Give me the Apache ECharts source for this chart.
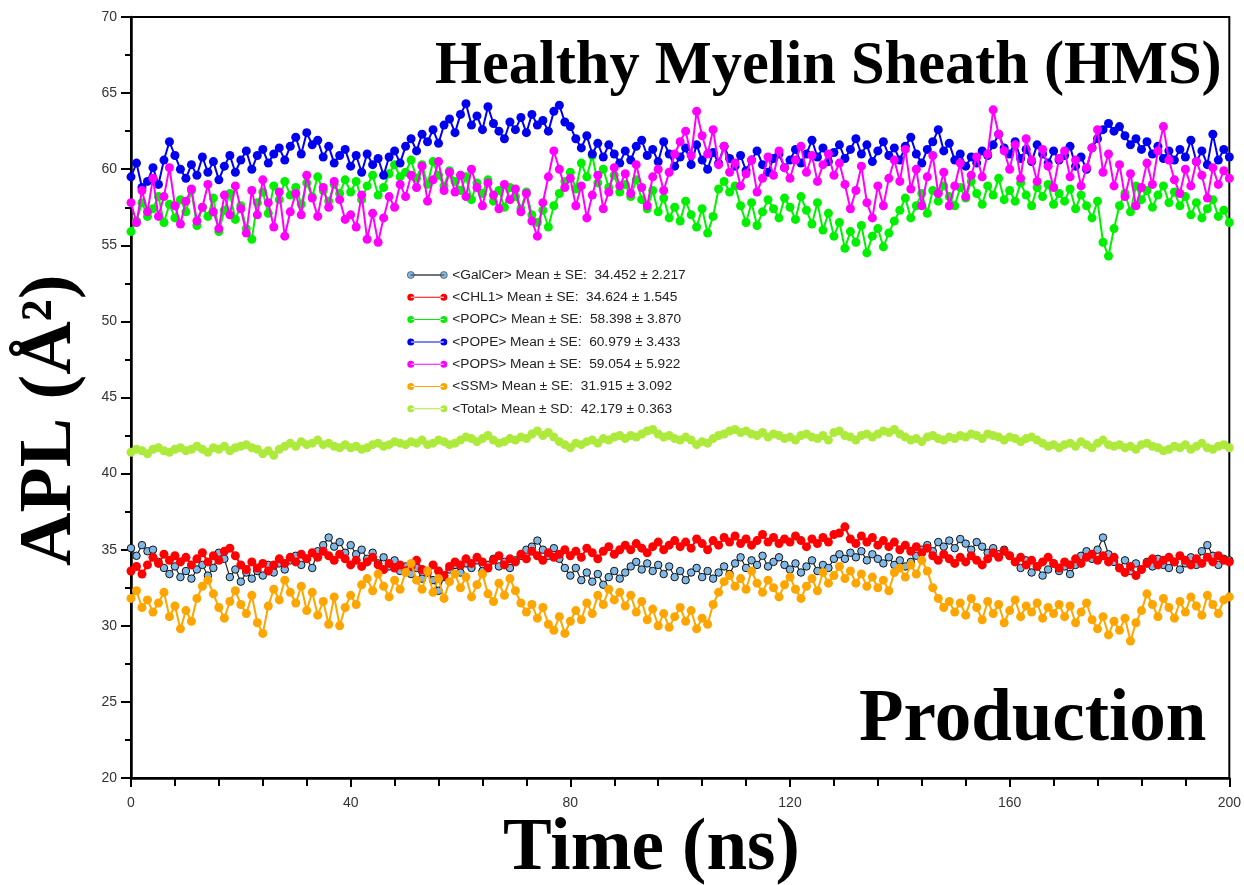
<!DOCTYPE html>
<html>
<head>
<meta charset="utf-8">
<script src="https://cdn.jsdelivr.net/npm/echarts@6/dist/echarts.min.js"></script>
<style>
html,body{margin:0;padding:0;background:#fff;}
#charts{width:1244px;height:885px;}
</style>
</head>
<body>
<div id="charts"></div>
<script>
// APL vs time, one value per ns
var timeStep = 1;
var lipidNames = ['<GalCer>','<CHL1>','<POPC>','<POPE>','<POPS>','<SSM>','<Total>'];
var statKind = ['SE','SE','SE','SE','SE','SE','SD'];
var meanVals = [34.452,34.624,58.398,60.979,59.054,31.915,42.179];
var errVals = [2.217,1.545,3.870,3.433,5.922,3.092,0.363];
var yTicks = [20,25,30,35,40,45,50,55,60,65,70];
var xTicks = [0,40,80,120,160,200];

var galcer = [35.1,34.6,35.3,34.9,35.0,34.2,33.8,33.4,33.9,33.2,
	33.6,33.1,33.7,34.0,33.3,33.8,34.8,34.4,33.2,33.7,
	32.9,33.5,33.1,33.6,33.3,34.0,33.5,34.1,33.7,34.3,
	34.6,34.0,34.4,33.8,34.9,35.3,35.8,35.2,35.5,34.8,
	35.3,34.7,35.0,34.4,34.8,34.1,34.5,33.9,34.3,33.6,
	33.9,33.4,33.8,33.1,33.6,33.0,32.3,33.2,33.7,34.0,
	33.5,34.1,33.8,34.3,33.6,34.0,34.4,33.9,34.2,33.8,
	34.3,34.6,35.0,35.2,35.6,35.0,34.6,35.1,34.4,33.8,
	33.3,33.8,33.0,33.5,32.9,33.4,32.7,33.2,33.6,33.1,
	33.5,33.9,34.2,33.7,34.1,33.6,34.0,33.4,33.9,33.2,
	33.6,33.0,33.5,33.8,33.2,33.6,33.1,33.5,33.9,33.4,
	34.1,34.5,33.8,34.3,34.0,34.6,33.9,34.2,34.5,34.0,
	33.7,34.1,33.5,33.9,34.3,33.6,34.0,33.8,34.4,34.7,
	34.4,34.8,34.5,34.9,34.3,34.7,34.4,34.1,34.5,34.0,
	34.3,33.9,34.2,34.6,35.0,35.3,34.9,35.5,35.2,35.6,
	35.1,35.7,35.4,35.0,35.5,35.2,34.8,35.1,34.7,35.0,
	34.6,34.2,33.8,34.3,33.5,33.9,33.3,33.7,34.1,33.6,
	33.9,33.4,34.0,34.6,34.9,34.4,35.0,35.8,34.7,34.2,
	33.8,34.3,33.6,34.1,33.7,34.2,33.9,34.4,34.0,33.8,
	34.2,33.7,34.1,34.5,34.0,34.9,35.3,34.6,34.0,34.4,
	34.3];
var chl1 = [33.6,33.9,33.4,34.0,34.5,34.1,34.7,34.3,34.6,34.2,
	34.5,34.0,34.4,34.8,34.2,34.6,34.3,34.9,35.1,34.6,
	34.0,33.7,34.2,33.8,34.1,33.6,34.0,34.4,34.1,34.5,
	34.2,34.7,34.4,34.8,34.5,34.9,34.6,34.3,34.7,34.4,
	34.0,34.3,33.9,34.2,34.5,34.0,33.7,34.1,33.8,34.0,
	33.6,33.9,34.3,33.7,33.5,34.0,33.6,33.3,33.9,34.2,
	34.0,34.4,34.1,34.5,34.2,33.8,34.3,34.6,34.0,34.4,
	34.2,34.7,34.4,34.9,34.6,34.3,34.8,34.5,34.7,35.0,
	34.6,34.9,34.5,35.1,34.8,34.4,34.9,35.2,34.7,35.0,
	35.3,35.0,35.4,35.1,34.8,35.2,35.5,35.0,35.3,35.6,
	35.2,35.5,35.1,35.7,35.4,35.0,35.6,35.3,35.8,35.5,
	35.9,35.4,35.7,35.3,35.6,36.0,35.5,35.8,35.4,35.7,
	35.5,35.9,35.6,35.2,35.7,35.4,35.8,35.5,36.0,36.1,
	36.5,35.7,35.4,35.9,35.5,35.8,35.3,35.6,35.2,35.5,
	35.0,35.3,34.9,35.2,34.8,35.1,34.6,34.3,34.7,34.4,
	34.1,34.5,34.2,34.6,34.3,34.0,34.4,34.8,34.5,34.9,
	34.6,34.2,34.5,34.0,34.3,33.9,34.2,34.5,34.1,33.8,
	34.2,34.0,34.4,34.1,34.5,34.7,34.3,34.6,34.2,34.5,
	33.8,33.5,33.9,33.3,33.7,34.1,34.4,34.0,34.3,34.5,
	34.2,34.6,34.3,34.0,34.4,34.1,34.5,34.2,34.6,34.3,
	34.2];
var popc = [55.9,56.6,57.8,56.9,57.4,58.2,56.5,57.7,56.8,58.0,
	57.2,58.6,56.3,57.5,56.9,58.1,55.9,57.3,58.4,56.7,
	57.6,56.1,55.4,57.8,58.5,57.1,58.9,58.0,59.2,58.3,
	58.8,57.7,59.1,58.2,59.5,58.6,57.9,59.0,58.4,59.3,
	58.5,59.2,58.0,58.9,59.6,58.3,58.8,59.7,60.3,59.5,
	59.8,60.6,59.4,60.3,59.0,60.5,59.6,58.9,59.9,59.2,
	58.6,59.5,58.0,59.1,58.4,59.3,57.9,58.6,57.5,58.8,
	58.2,57.4,58.5,57.0,56.5,57.3,56.2,57.6,58.4,59.2,
	59.8,58.7,60.4,59.5,60.9,59.1,60.0,58.8,59.6,58.5,
	59.0,58.2,59.3,58.0,57.4,58.6,57.2,58.1,56.8,57.5,
	56.6,57.9,57.0,56.2,57.4,55.8,56.9,58.7,59.2,58.5,
	58.9,57.6,56.5,57.8,56.3,57.2,58.0,57.4,56.8,58.1,
	57.5,56.7,58.2,57.3,56.4,57.8,56.0,57.1,55.6,56.5,
	54.8,55.9,55.2,56.3,54.5,55.6,56.1,54.9,55.8,56.6,
	57.3,58.1,56.8,57.6,58.4,57.1,58.6,57.9,58.9,58.2,
	57.6,58.8,58.1,59.2,58.4,57.7,58.9,58.3,59.4,58.0,
	58.6,57.9,59.1,58.3,57.6,58.8,58.2,59.0,57.7,58.4,
	57.9,58.7,57.4,58.3,57.6,56.8,57.9,55.2,54.3,56.1,
	57.6,58.4,57.2,58.9,58.0,58.6,57.5,58.3,58.9,57.8,
	58.5,57.6,58.2,57.0,57.8,56.8,57.4,58.0,56.9,57.3,
	56.5];
var pope = [59.5,60.4,58.8,59.2,60.1,59.0,60.6,61.8,60.9,60.0,
	59.4,60.3,59.6,60.8,59.8,60.5,59.3,60.2,60.9,59.8,
	60.6,61.2,60.0,60.9,61.3,60.4,61.0,61.4,60.6,61.5,
	62.1,61.0,62.4,61.6,61.9,60.8,61.5,60.4,60.9,61.3,
	60.2,60.9,59.8,61.0,60.3,60.7,59.6,60.8,61.2,60.4,
	61.5,62.0,61.2,62.3,61.8,62.6,61.7,62.9,63.3,62.4,
	63.6,64.3,62.9,63.5,62.6,64.1,63.0,62.5,62.0,63.1,
	62.6,63.4,62.4,63.6,62.9,63.2,62.5,63.8,64.2,63.1,
	62.8,62.0,61.4,62.2,61.0,61.7,60.8,61.6,61.0,60.4,
	61.2,60.6,61.5,61.9,60.9,61.3,60.5,61.8,61.0,60.2,
	60.8,61.4,60.3,61.6,60.6,60.0,61.1,60.4,61.5,60.7,
	60.2,60.9,59.9,60.6,61.2,60.3,59.8,60.7,61.0,60.1,
	60.6,61.3,60.4,61.0,61.9,60.8,61.4,60.5,61.1,61.6,
	60.7,61.3,62.0,61.0,61.6,60.5,61.2,61.8,60.9,61.4,
	60.6,61.5,62.1,61.0,60.4,61.3,61.8,62.6,61.2,61.7,
	60.6,61.0,60.2,60.8,60.4,61.2,60.9,61.6,62.3,61.4,
	61.0,61.8,60.7,61.3,60.5,61.6,61.0,60.4,61.2,60.6,
	60.9,61.5,60.2,60.8,60.0,61.4,62.0,62.6,63.0,62.5,
	62.8,62.2,61.6,62.0,61.3,61.8,61.0,61.5,60.7,61.2,
	60.6,61.3,60.8,61.9,60.5,61.2,60.3,62.3,60.6,61.3,
	60.8];
var pops = [57.8,56.5,58.6,57.2,59.4,56.9,58.2,60.1,57.6,56.4,
	57.9,58.7,56.6,57.5,59.0,57.2,56.1,58.3,57.0,58.9,
	57.4,55.8,58.6,57.0,59.3,57.8,56.2,58.5,55.6,57.2,
	58.4,57.0,59.6,58.1,56.9,58.8,57.5,59.2,58.0,56.7,
	57.0,56.2,58.3,55.4,57.1,55.2,56.8,58.2,57.5,59.0,
	58.2,59.6,58.8,60.2,57.9,59.3,60.5,58.6,59.8,58.5,
	59.6,58.2,60.0,58.8,57.6,59.1,58.3,57.4,59.0,58.0,
	58.7,57.2,58.4,56.6,55.6,57.8,59.5,61.2,60.0,58.8,
	59.4,57.6,58.9,56.8,58.3,59.6,57.4,58.5,60.1,58.9,
	59.7,58.4,60.3,58.8,57.6,59.5,60.0,58.6,59.8,61.0,
	61.8,62.5,60.9,63.8,62.2,61.0,62.6,60.3,61.5,59.8,
	60.4,58.9,59.7,60.6,58.5,59.4,60.8,59.6,61.2,60.1,
	59.4,60.6,61.5,59.8,60.9,59.2,60.3,61.0,59.6,60.4,
	59.0,57.4,58.6,60.2,57.8,56.8,58.9,57.6,59.4,60.6,
	59.2,61.3,58.7,60.0,57.6,59.5,60.9,58.4,59.8,57.6,
	58.9,60.4,58.2,59.6,60.8,59.5,61.0,63.9,62.3,61.2,
	60.0,61.6,59.4,62.0,60.6,59.2,61.3,60.2,58.8,60.7,
	61.2,59.5,60.6,58.9,60.1,61.4,62.6,59.8,61.0,58.9,
	60.3,58.2,59.7,57.6,58.8,60.4,59.0,61.2,62.8,60.6,
	59.3,58.4,60.0,58.9,60.5,59.6,58.1,60.1,59.0,59.9,
	59.4];
var ssm = [31.8,32.3,31.2,31.7,30.9,31.5,32.2,30.6,31.3,29.8,
	31.0,30.3,31.8,32.6,33.0,32.1,31.2,30.5,31.6,32.3,
	31.4,30.8,32.0,30.2,29.5,31.3,32.4,31.7,33.0,32.2,
	31.5,32.6,31.0,32.2,30.7,31.6,30.1,31.9,30.0,31.2,
	32.0,31.4,32.7,33.1,32.3,33.4,32.6,31.9,33.0,32.4,
	33.5,34.1,33.0,32.4,33.6,32.2,33.1,31.8,32.9,33.4,
	32.5,33.2,31.9,32.7,33.4,32.1,31.6,32.8,32.0,33.1,
	32.3,31.5,30.9,31.4,30.5,31.2,30.1,29.7,30.6,29.5,
	30.3,31.0,30.4,31.5,30.8,32.0,31.4,32.4,31.7,32.2,
	31.3,32.0,30.9,31.6,30.4,31.1,30.0,30.8,29.9,30.6,
	31.2,30.3,31.0,29.8,30.5,30.1,31.4,32.2,32.9,33.3,
	32.6,33.1,32.4,33.6,32.8,32.2,33.0,32.5,31.9,32.7,
	33.2,32.4,31.8,32.6,33.1,32.3,33.5,32.8,33.3,33.9,
	33.1,33.6,32.8,33.4,32.6,33.2,32.5,33.0,32.3,33.5,
	33.8,33.2,34.0,33.4,34.3,33.6,32.5,31.8,31.2,31.6,
	30.9,31.5,30.7,31.8,31.2,30.4,31.6,30.8,31.4,30.2,
	31.0,31.7,30.6,31.3,30.9,31.5,30.5,31.2,30.8,31.4,
	30.6,31.3,30.2,30.9,31.5,30.4,29.8,30.6,29.4,30.3,
	29.7,30.5,29.0,30.2,31.0,32.1,31.4,30.6,31.8,31.2,
	30.5,31.6,30.9,31.9,31.3,30.7,32.0,31.4,30.8,31.7,
	31.9];
var total = [41.4,41.6,41.5,41.3,41.6,41.7,41.5,41.4,41.6,41.7,
	41.5,41.6,41.8,41.6,41.4,41.7,41.6,41.8,41.5,41.7,
	41.8,41.9,41.7,41.6,41.3,41.5,41.2,41.6,41.8,42.0,
	41.8,42.1,41.9,42.0,42.2,41.9,42.0,41.8,41.7,41.9,
	41.7,41.8,41.6,41.7,41.9,42.0,41.8,41.9,42.1,42.0,
	41.9,42.1,42.0,42.2,41.9,42.0,42.2,42.1,41.9,42.0,
	42.2,42.4,42.3,42.1,42.3,42.5,42.2,42.0,42.1,42.3,
	42.2,42.4,42.3,42.6,42.8,42.5,42.7,42.4,42.1,41.9,
	41.7,42.0,41.9,42.1,42.2,42.0,42.3,42.2,42.4,42.5,
	42.3,42.5,42.4,42.6,42.8,42.9,42.6,42.4,42.5,42.3,
	42.2,42.4,42.2,41.9,42.1,42.0,42.3,42.5,42.6,42.8,
	42.9,42.7,42.8,42.6,42.5,42.7,42.4,42.6,42.5,42.3,
	42.4,42.2,42.5,42.6,42.4,42.3,42.5,42.2,42.7,42.8,
	42.5,42.4,42.2,42.5,42.6,42.4,42.6,42.8,42.7,42.9,
	42.6,42.4,42.2,42.3,42.1,42.4,42.5,42.3,42.2,42.4,
	42.3,42.5,42.4,42.6,42.5,42.3,42.6,42.5,42.4,42.2,
	42.4,42.3,42.1,42.3,42.4,42.2,42.0,41.8,41.9,41.7,
	41.9,42.0,41.8,42.1,41.9,41.7,42.0,42.2,41.9,41.8,
	41.9,41.7,41.8,41.6,41.9,42.0,41.8,41.7,41.5,41.6,
	41.8,41.7,41.9,41.6,41.8,42.0,41.7,41.6,41.8,41.9,
	41.7];

var seriesData = [galcer,chl1,popc,pope,pops,ssm,total];
var seriesColors = ['#7fb8e6','#ff0000','#00f000','#0000ee','#ff00ff','#ffa500','#aeea3c'];
var lineColors = ['#222222','#ff0000','#00f000','#0000ee','#ff00ff','#ffa500','#aeea3c'];
var markSizes = [7.5,9,9,9,9,9,9];

var times = [];
for(var i=0;i<galcer.length;i++){
	times.push(i*timeStep);
}

var legendIcon = 'path://M0,4a3.5,3.5 0 1,0 7,0a3.5,3.5 0 1,0 -7,0zM33,4a3.5,3.5 0 1,0 7,0a3.5,3.5 0 1,0 -7,0zM3.5,3.5h33v1h-33z';

function buildSeries(){
	var list = [];
	for(var k=0;k<lipidNames.length;k++){
		var pts = [];
		for(var i=0;i<times.length;i++){
			pts.push([times[i], seriesData[k][i]]);
		}
		list.push({
			name: lipidNames[k],
			type: 'line',
			data: pts,
			symbol: 'circle',
			symbolSize: markSizes[k],
			showAllSymbol: true,
			lineStyle: {color: lineColors[k], width: k==0 ? 1.2 : 2},
			itemStyle: k==0 ? {color: seriesColors[k], borderColor: '#111', borderWidth: 1}
				: {color: seriesColors[k], borderWidth: 0},
			emphasis: {disabled: true},
			z: 2 + k
		});
	}
	return list;
}

var charts = echarts.init(document.getElementById('charts'));
var option = {
	animation: false,
	backgroundColor: '#fff',
	grid: {
		left: 131, right: 11, top: 17, bottom: 107,
		show: true, borderColor: '#000', borderWidth: 2
	},
	legend: {
		orient: 'vertical',
		left: 402,
		top: 263,
		itemWidth: 40,
		itemHeight: 7,
		itemGap: 8.3,
		data: lipidNames.map(function(n, i){
			var d = {name: n, icon: legendIcon};
			if(i==0){
				d.itemStyle = {color: seriesColors[0], borderColor: '#333', borderWidth: 0.6};
			}
			return d;
		}),
		textStyle: {fontSize: 13.7, color: '#222', fontFamily: 'Liberation Sans'},
		formatter: function(name){
			var i = lipidNames.indexOf(name);
			return name + ' Mean \u00b1 ' + statKind[i] + ':  ' + meanVals[i].toFixed(3) + ' \u00b1 ' + errVals[i].toFixed(3);
		}
	},
	xAxis: {
		type: 'value',
		min: xTicks[0],
		max: xTicks[xTicks.length-1],
		interval: 40,
		axisLine: {lineStyle: {color: '#000', width: 2.5}},
		axisTick: {length: 9, lineStyle: {color: '#000', width: 2}},
		minorTick: {show: true, splitNumber: 5, length: 8, lineStyle: {color: '#000', width: 2}},
		splitLine: {show: false},
		axisLabel: {fontSize: 14, color: '#333', margin: 18, fontFamily: 'Liberation Sans'}
	},
	yAxis: {
		type: 'value',
		min: yTicks[0],
		max: yTicks[yTicks.length-1],
		interval: 5,
		axisLine: {lineStyle: {color: '#000', width: 2.5}},
		axisTick: {length: 10, lineStyle: {color: '#000', width: 2}},
		minorTick: {show: true, splitNumber: 2, length: 6, lineStyle: {color: '#000', width: 2}},
		splitLine: {show: false},
		axisLabel: {fontSize: 14, color: '#333', margin: 14, fontFamily: 'Liberation Sans'}
	},
	graphic: [{
		type: 'text', left: 435, top: 37, z: 100,
		style: {text: 'Healthy Myelin Sheath (HMS)', fill: '#000', font: 'bold 60.4px "Liberation Serif"'}
	},{
		type: 'text', left: 859, top: 685, z: 100,
		style: {text: 'Production', fill: '#000', font: 'bold 73px "Liberation Serif"'}
	},{
		type: 'text', left: 503, top: 814, z: 100,
		style: {text: 'Time (ns)', fill: '#000', font: 'bold 73px "Liberation Serif"'}
	},{
		type: 'text', x: 14, y: 566, rotation: Math.PI/2, z: 100,
		style: {text: 'APL (\u00c5\u00b2)', fill: '#000', font: 'bold 74px "Liberation Serif"', verticalAlign: 'top', align: 'left'}
	}],
	series: buildSeries()
};
charts.setOption(option);
</script>
</body>
</html>
